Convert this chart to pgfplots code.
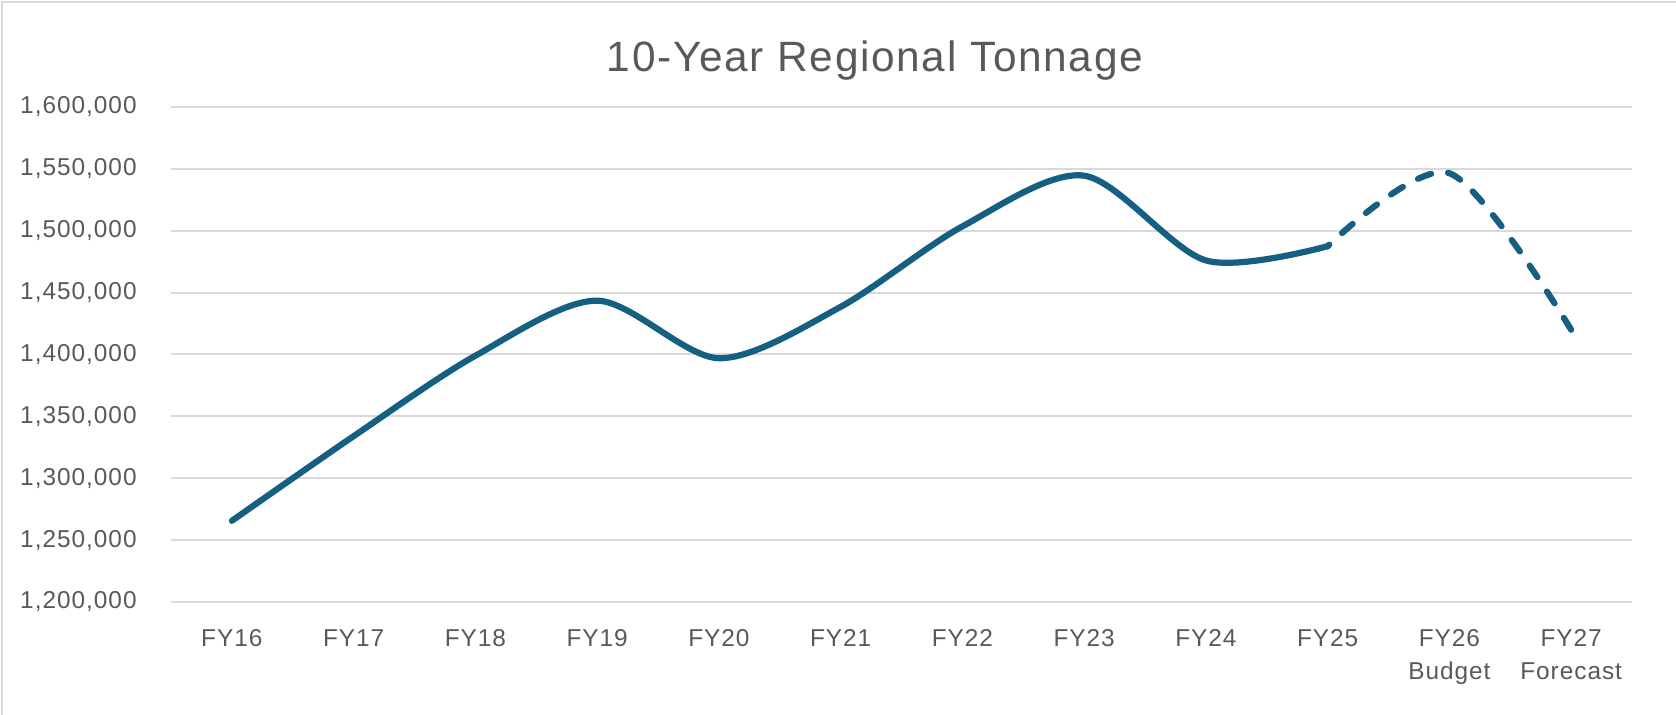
\documentclass[border=0pt]{standalone}
\usepackage{fontspec}
\setmainfont{Liberation Sans}[LetterSpace=4]
\usepackage{pgfplots}
\pgfplotsset{compat=1.18}
\usepackage{pgfplotstable}
\definecolor{linec}{HTML}{156082}
\definecolor{txtc}{HTML}{595959}
\definecolor{gridc}{HTML}{D9D9D9}
\pgfplotstableread{
x y
0 1265600
1 1334000
2 1399000
3 1443500
4 1397000
5 1438500
6 1503500
7 1544500
8 1476000
9 1487500
}\actual
\pgfplotstableread{
x y
11 1420000
10 1546500
9 1487500
}\projected
\begin{document}
\begin{tikzpicture}
\useasboundingbox (-85.5pt,-56.5pt) rectangle (752.5pt,301pt);
\begin{axis}[
  at={(0,0)}, anchor=south west,
  scale only axis, width=730.5pt, height=247.5pt,
  xmin=-0.5, xmax=11.5, ymin=1200000, ymax=1600000,
  ytick={1200000,1250000,...,1600000},
  xtick={0,...,11},
  xticklabels={FY16,FY17,FY18,FY19,FY20,FY21,FY22,FY23,FY24,FY25,{FY26\\Budget},{FY27\\Forecast}},
  axis line style={draw=none},
  major tick length=0pt,
  xmajorgrids=false,
  ymajorgrids=true,
  y grid style={draw=gridc, line width=1pt},
  tick style={draw=none},
  scaled y ticks=false,
  /pgf/number format/.cd, fixed, 1000 sep={,}, assume math mode=true,
  /pgfplots/.cd,
  yticklabel style={anchor=east, inner sep=0pt, xshift=-17pt, text=txtc, font=\fontsize{12.2}{14}\selectfont},
  xticklabel style={anchor=north, inner sep=0pt, yshift=-13.5pt, align=center, text=txtc, font=\fontsize{12.2}{16.5}\selectfont},
  clip=false,
]
\addplot[linec, line width=3.1pt, smooth, line cap=round] table[x=x,y=y] {\actual};
\addplot[linec, line width=3.1pt, smooth, line cap=round, dash pattern=on 7pt off 8.6pt] table[x=x,y=y] {\projected};
\end{axis}
\draw[gridc, line width=1pt] (-84.25pt,-56.5pt) -- (-84.25pt,299.75pt) -- (752.5pt,299.75pt);
\node[text=txtc, font=\fontsize{21.2}{25}\selectfont, inner sep=0pt] at (352pt,270.5pt) {10-Year Regional Tonnage};
\end{tikzpicture}
\end{document}
